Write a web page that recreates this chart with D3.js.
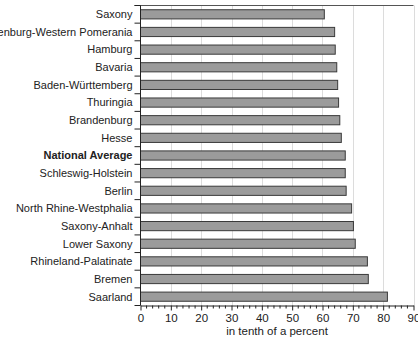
<!DOCTYPE html>
<html><head><meta charset="utf-8">
<script src="https://cdn.jsdelivr.net/npm/d3@7"></script>
<style>body{margin:0;background:#fff}svg{display:block}text{font-family:"Liberation Sans",Arial,sans-serif}</style>
</head><body><svg id="c" width="418" height="339"></svg>
<script>
const categories = ["Saxony","Mecklenburg-Western Pomerania","Hamburg","Bavaria","Baden-Württemberg","Thuringia","Brandenburg","Hesse","National Average","Schleswig-Holstein","Berlin","North Rhine-Westphalia","Saxony-Anhalt","Lower Saxony","Rhineland-Palatinate","Bremen","Saarland"];
const values = [60.6,64.0,64.2,64.7,65.0,65.3,65.7,66.2,67.5,67.5,67.8,69.6,70.2,70.8,74.8,75.1,81.4];
const xTicks = [0,10,20,30,40,50,60,70,80,90];
const axisTitle = "in tenth of a percent";
const highlight = "National Average";

const svg = d3.select("#c");
const L = 140.5, R = 413.5, T = 5.5, B = 305.5;
const x = d3.scaleLinear().domain([0,90]).range([L,R]);
const y = d3.scaleBand().domain(categories).range([T,B]).paddingInner(0.48).paddingOuter(0.24);
const step = y.step();

// gridlines
svg.append("g").selectAll("line").data(xTicks.filter(d=>d>0)).join("line")
  .attr("x1",d=>Math.round(x(d))+0.5).attr("x2",d=>Math.round(x(d))+0.5)
  .attr("y1",T).attr("y2",B).attr("stroke","#dcdcdc").attr("stroke-width",1);

// top border
svg.append("line").attr("x1",L-6).attr("x2",R).attr("y1",T).attr("y2",T).attr("stroke","#555").attr("stroke-width",1);

// bars
svg.append("g").selectAll("rect").data(categories).join("rect")
  .attr("x",L).attr("y",d=>y(d))
  .attr("width",(d,i)=>x(values[i])-L).attr("height",y.bandwidth())
  .attr("fill","#9b9b9b").attr("stroke","#3a3a3a").attr("stroke-width",1);

// left axis
svg.append("line").attr("x1",L).attr("x2",L).attr("y1",T).attr("y2",B).attr("stroke","#222");
const bounds = d3.range(categories.length+1).map(i=>T+i*step);
svg.append("g").selectAll("line").data(bounds).join("line")
  .attr("x1",L-6).attr("x2",L).attr("y1",d=>d).attr("y2",d=>d).attr("stroke","#222");
svg.append("g").selectAll("text").data(categories).join("text")
  .attr("x",L-8).attr("y",d=>y(d)+y.bandwidth()/2).attr("dy","0.35em")
  .attr("text-anchor","end").attr("font-size",11)
  .attr("font-weight",d=>d===highlight?"bold":"normal")
  .attr("fill","#222").text(d=>d);

// bottom axis
const gx = svg.append("g").attr("transform",`translate(0,${B})`);
gx.call(d3.axisBottom(x).tickValues(xTicks).tickSize(5).tickFormat(d3.format("d")).tickSizeOuter(0));
gx.select(".domain").attr("stroke","#222");
gx.selectAll(".tick line").attr("stroke","#222");
gx.selectAll(".tick text").attr("font-size",11.5).attr("fill","#222").attr("font-family","Liberation Sans, Arial, sans-serif");
const minor = d3.range(0,91,2).filter(d=>d%10!==0);
gx.append("g").selectAll("line").data(minor).join("line")
  .attr("x1",d=>x(d)).attr("x2",d=>x(d)).attr("y1",0).attr("y2",3).attr("stroke","#222");

svg.append("text").attr("x",(L+R)/2).attr("y",334.5).attr("text-anchor","middle")
  .attr("font-size",11.5).attr("fill","#222").text(axisTitle);
</script></body></html>
